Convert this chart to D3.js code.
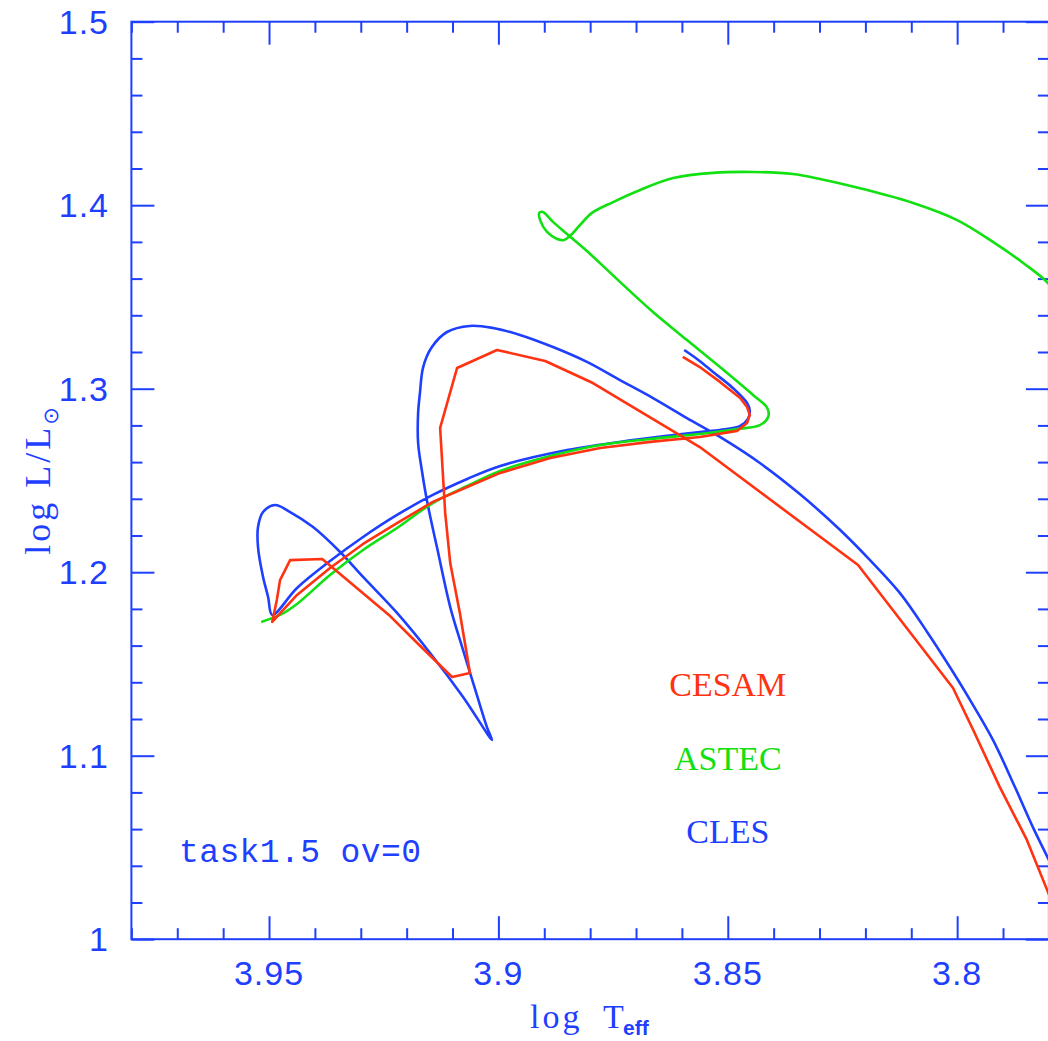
<!DOCTYPE html>
<html><head><meta charset="utf-8">
<script src="https://cdn.jsdelivr.net/npm/d3@7"></script>
<style>body{margin:0;background:#fff}svg{display:block}</style>
</head><body>
<script>
// ---------- data ----------
const xMajorTicks = [3.95, 3.9, 3.85, 3.8];
const xTickLabels = ["3.95", "3.9", "3.85", "3.8"];
const yMajorTicks = [1.0, 1.1, 1.2, 1.3, 1.4, 1.5];
const yTickLabels = ["1", "1.1", "1.2", "1.3", "1.4", "1.5"];
const seriesNames = ["CESAM", "ASTEC", "CLES"];

const clesLogT = [3.7780,3.7802,3.7835,3.7874,3.7922,3.7972,3.8009,3.8064,3.8125,3.8190,3.8255,3.8343,3.8430,3.8517,3.8589,3.8663,3.8735,3.8807,3.8881,3.8953,3.9012,3.9062,3.9112,3.9145,3.9164,3.9171,3.9175,3.9175,3.9167,3.9158,3.9147,3.9134,3.9105,3.9077,3.9047,3.9025,3.9014,3.9077,3.9149,3.9221,3.9295,3.9345,3.9404,3.9454,3.9487,3.9513,3.9524,3.9524,3.9513,3.9502,3.9493,3.9439,3.9367,3.9295,3.9221,3.9143,3.9068,3.8996,3.8850,3.8707,3.8561,3.8517,3.8473,3.8456,3.8452,3.8458,3.8489,3.8532,3.8567,3.8595];
const clesLogL = [1.0328,1.0442,1.0611,1.0829,1.1086,1.1304,1.1456,1.1669,1.1887,1.2066,1.2230,1.2426,1.2595,1.2737,1.2840,1.2949,1.3047,1.3146,1.3227,1.3293,1.3331,1.3342,1.3309,1.3227,1.3118,1.2977,1.2868,1.2704,1.2557,1.2421,1.2284,1.2137,1.1810,1.1576,1.1331,1.1156,1.1086,1.1320,1.1560,1.1778,1.1974,1.2110,1.2246,1.2328,1.2366,1.2328,1.2246,1.2137,1.1974,1.1865,1.1767,1.1914,1.2061,1.2192,1.2312,1.2421,1.2508,1.2579,1.2666,1.2720,1.2764,1.2775,1.2797,1.2835,1.2879,1.2922,1.3004,1.3091,1.3162,1.3211];

const cesamLogT = [3.7780,3.7848,3.7907,3.7965,3.8009,3.8216,3.8561,3.8794,3.8898,3.9003,3.9090,3.9127,3.9116,3.9105,3.9084,3.9062,3.9101,3.9177,3.9236,3.9384,3.9454,3.9476,3.9483,3.9493,3.9439,3.9367,3.9295,3.9221,3.9143,3.9068,3.8996,3.8887,3.8778,3.8669,3.8561,3.8480,3.8458,3.8452,3.8458,3.8473,3.8517,3.8561,3.8598];
const cesamLogL = [1.0121,1.0541,1.0829,1.1140,1.1369,1.2039,1.2682,1.3031,1.3151,1.3211,1.3113,1.2786,1.2323,1.2050,1.1778,1.1451,1.1429,1.1614,1.1761,1.2072,1.2066,1.1957,1.1849,1.1729,1.1876,1.2023,1.2154,1.2268,1.2383,1.2464,1.2541,1.2622,1.2677,1.2710,1.2737,1.2770,1.2813,1.2857,1.2900,1.2949,1.3037,1.3118,1.3173];

const astecLogT = [3.9517,3.9476,3.9439,3.9367,3.9295,3.9221,3.9143,3.9068,3.8996,3.8887,3.8778,3.8669,3.8561,3.8480,3.8430,3.8412,3.8414,3.8445,3.8517,3.8589,3.8663,3.8735,3.8807,3.8848,3.8881,3.8903,3.8911,3.8909,3.8894,3.8872,3.8857,3.8844,3.8822,3.8796,3.8750,3.8691,3.8619,3.8532,3.8445,3.8358,3.8299,3.8205,3.8096,3.8000,3.7922,3.7856,3.7802,3.7776];
const astecLogL = [1.1729,1.1767,1.1827,1.1985,1.2121,1.2241,1.2377,1.2470,1.2552,1.2633,1.2693,1.2726,1.2753,1.2780,1.2802,1.2846,1.2895,1.2966,1.3118,1.3265,1.3418,1.3582,1.3750,1.3838,1.3909,1.3963,1.3958,1.3919,1.3854,1.3816,1.3810,1.3832,1.3892,1.3958,1.4017,1.4083,1.4148,1.4176,1.4181,1.4170,1.4143,1.4088,1.4012,1.3919,1.3800,1.3685,1.3576,1.3479];

(function () {
// ---------- layout ----------
const W = 1048, H = 1041;
const AX = "#1f3fff", RED = "#ff3311", GREEN = "#11e011", BLUE = "#1f3fff";
const pL = 131.4, pR = 1048.9, pT = 21.7, pB = 939.2;

const x = d3.scaleLinear().domain([3.98, 3.78]).range([pL, pR]);
const y = d3.scaleLinear().domain([1.0, 1.5]).range([pB, pT]);

const svg = d3.select("body").append("svg").attr("width", W).attr("height", H);

svg.append("defs").append("clipPath").attr("id", "plotclip")
  .append("rect").attr("x", pL).attr("y", pT).attr("width", pR - pL).attr("height", pB - pT);

// ---------- axes ----------
const xMinor = d3.range(378, 399).map(v => v / 100).filter(v => !xMajorTicks.some(m => Math.abs(m - v) < 1e-6));
const yMinor = d3.range(50, 76).map(v => v / 50).filter(v => !yMajorTicks.some(m => Math.abs(m - v) < 1e-6));

function styleAxis(g) {
  g.select(".domain").remove();
  g.selectAll(".tick line").attr("stroke", AX).attr("stroke-width", 2);
  g.selectAll(".tick text").remove();
}
const MAJ = 23, MIN = 11;
[[xMajorTicks, MAJ], [xMinor, MIN]].forEach(([vals, len]) => {
  svg.append("g").attr("transform", `translate(0,${pB})`)
    .call(d3.axisBottom(x).tickValues(vals).tickSizeInner(-len).tickSizeOuter(0)).call(styleAxis);
  svg.append("g").attr("transform", `translate(0,${pT})`)
    .call(d3.axisTop(x).tickValues(vals).tickSizeInner(-len).tickSizeOuter(0)).call(styleAxis);
});
[[yMajorTicks, MAJ], [yMinor, MIN]].forEach(([vals, len]) => {
  svg.append("g").attr("transform", `translate(${pL},0)`)
    .call(d3.axisLeft(y).tickValues(vals).tickSizeInner(-len).tickSizeOuter(0)).call(styleAxis);
  svg.append("g").attr("transform", `translate(${pR},0)`)
    .call(d3.axisRight(y).tickValues(vals).tickSizeInner(-len).tickSizeOuter(0)).call(styleAxis);
});

svg.append("rect").attr("x", pL).attr("y", pT).attr("width", pR - pL).attr("height", pB - pT)
  .attr("fill", "none").attr("stroke", AX).attr("stroke-width", 2);

// tick labels
svg.append("g").selectAll("text").data(xMajorTicks).join("text")
  .attr("x", d => x(d)).attr("y", pB + 46)
  .attr("text-anchor", "middle")
  .attr("font-family", "Liberation Sans, Arial, sans-serif").attr("font-size", 34)
  .attr("letter-spacing", 1).attr("fill", AX)
  .text((d, i) => xTickLabels[i]);

svg.append("g").selectAll("text").data(yMajorTicks).join("text")
  .attr("x", 109).attr("y", d => y(d) + 12)
  .attr("text-anchor", "end")
  .attr("font-family", "Liberation Sans, Arial, sans-serif").attr("font-size", 34)
  .attr("letter-spacing", 1).attr("fill", AX)
  .text((d, i) => yTickLabels[i]);

// axis titles
const xt = svg.append("text").attr("y", 1028).attr("fill", AX)
  .attr("font-family", "Liberation Serif, Times New Roman, serif").attr("font-size", 34);
xt.append("tspan").attr("x", 530).attr("letter-spacing", 3).text("log");
xt.append("tspan").attr("x", 603).text("T");
xt.append("tspan").attr("x", 623).attr("dy", 7).attr("font-size", 21).attr("font-weight", "bold")
  .attr("font-family", "Liberation Sans, Arial, sans-serif").text("eff");

const yt = svg.append("text").attr("transform", "translate(50,481) rotate(-90)")
  .attr("text-anchor", "middle").attr("fill", AX)
  .attr("font-family", "Liberation Serif, Times New Roman, serif").attr("font-size", 36);
yt.append("tspan").attr("letter-spacing", 3).text("log L/L");
yt.append("tspan").attr("dy", 8).attr("font-size", 21).attr("font-family", "DejaVu Sans, sans-serif").text("\u2299");

// ---------- curves ----------
const plot = svg.append("g").attr("clip-path", "url(#plotclip)");
const smooth = d3.line().x(d => x(d[0])).y(d => y(d[1])).curve(d3.curveCatmullRom.alpha(0.5));
const poly = d3.line().x(d => x(d[0])).y(d => y(d[1]));

const cles = d3.zip(clesLogT, clesLogL);
const astec = d3.zip(astecLogT, astecLogL);
const cesam = d3.zip(cesamLogT, cesamLogL);

plot.append("path").datum(cles).attr("d", smooth).attr("fill", "none").attr("stroke", BLUE).attr("stroke-width", 2.6).attr("stroke-linejoin", "round");
plot.append("path").datum(astec).attr("d", smooth).attr("fill", "none").attr("stroke", GREEN).attr("stroke-width", 2.6).attr("stroke-linejoin", "round");
plot.append("path").datum(cesam).attr("d", poly).attr("fill", "none").attr("stroke", RED).attr("stroke-width", 2.6).attr("stroke-linejoin", "round");

// ---------- legend & annotation ----------
const legendColors = [RED, GREEN, BLUE];
const legendBase = [696, 770, 843];
svg.append("g").selectAll("text").data(seriesNames).join("text")
  .attr("x", x(3.85)).attr("y", (d, i) => legendBase[i])
  .attr("text-anchor", "middle")
  .attr("font-family", "Liberation Serif, Times New Roman, serif").attr("font-size", 34)
  .attr("fill", (d, i) => legendColors[i])
  .text(d => d);

svg.append("text").attr("x", 179).attr("y", 862).attr("fill", AX)
  .attr("font-family", "Liberation Mono, Courier New, monospace").attr("font-size", 33)
  .attr("textLength", 242).attr("lengthAdjust", "spacing")
  .text("task1.5 ov=0");
})();
</script>
</body></html>
